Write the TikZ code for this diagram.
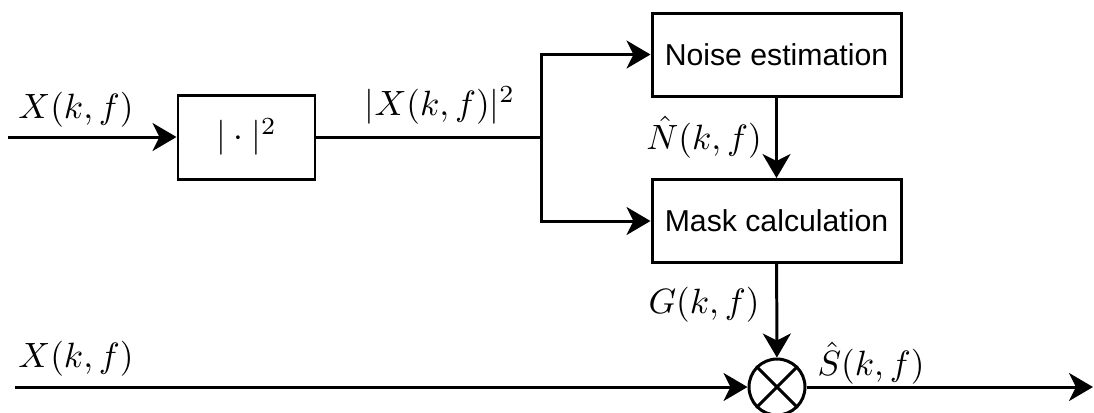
\documentclass[tikz,border=0pt]{standalone}
\usepackage{fontspec}
\usepackage{tikz}
\usepackage{amsmath}
\usetikzlibrary{arrows.meta,positioning,calc}
\newfontfamily\arialfont{Liberation Sans}

\begin{document}
\begin{tikzpicture}[
        b/.style={draw,line width=0.85pt,minimum width=24.9mm,minimum height=8.3mm,inner sep=0pt,font=\arialfont\fontsize{8.6}{10}\selectfont},
        a/.style={-{Stealth[length=2.4mm,width=2.8mm,inset=0.7mm]},line width=0.85pt},
        l/.style={anchor=base,inner sep=0pt,font=\fontsize{10.4}{12}\selectfont}]
        \useasboundingbox (0,0) rectangle (10.94,-4.12);
        \node[b,minimum width=13.7mm,minimum height=8.4mm,font=\fontsize{10.4}{12}\selectfont] (sq) at (2.465,-1.37) {$|\cdot|^2$};
        \node[b] (ne) at (7.765,-0.545) {Noise estimation};
        \node[b] (mc) at (7.765,-2.21) {Mask calculation};
        \node[circle,draw,line width=0.85pt,minimum size=5.6mm,inner sep=0pt] (mul) at (7.77,-3.87) {};
        \draw[line width=0.85pt] (mul.north west)--(mul.south east) (mul.north east)--(mul.south west);
        \coordinate (in1) at (0.08,-1.37); \coordinate (br) at (5.41,-1.37);
        \coordinate (in2) at (0.15,-3.87); \coordinate (out) at (10.93,-3.87);
        \draw[a] (in1)--(sq.west);
        \draw[a] (sq.east)--(br) |- (ne.west);
        \draw[a] (br) |- (mc.west);
        \draw[a] (ne)--(mc); \draw[a] (mc)--(mul);
        \draw[a] (in2)--(mul); \draw[a] (mul)--(out);
        \node[l] (x1) at (0.76,-1.18) {$X(k,f)$};
        \node[l] (xs) at (4.40,-1.15) {$|X(k,f)|^2$};
        \node[l] (nh) at (7.04,-1.49) {$\hat{N}(k,f)$};
        \node[l] (g) at (7.04,-3.13) {$G(k,f)$};
        \node[l] (x2) at (0.76,-3.67) {$X(k,f)$};
        \node[l] (sh) at (8.71,-3.75) {$\hat{S}(k,f)$};
      \end{tikzpicture}
\end{document}
